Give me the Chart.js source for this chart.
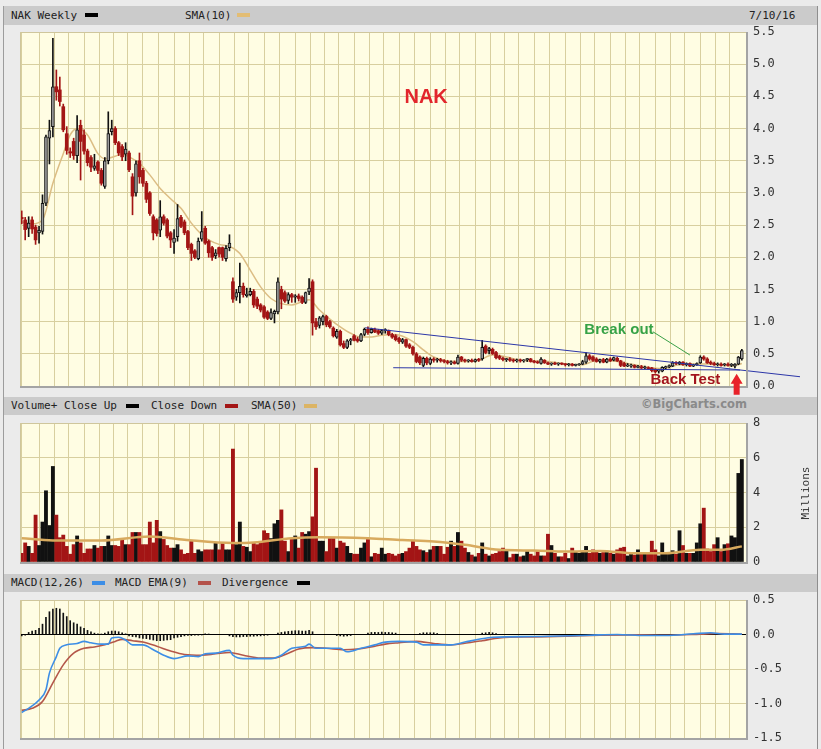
<!DOCTYPE html>
<html><head><meta charset="utf-8">
<script src="https://cdn.jsdelivr.net/npm/chart.js@4.4.1/dist/chart.umd.min.js"></script>
<style>
html,body{margin:0;padding:0;}
body{width:821px;height:749px;background:#ebebeb;position:relative;overflow:hidden;font-family:"DejaVu Sans Mono",monospace;}
.frame{position:absolute;left:3px;top:6px;width:815px;height:743px;border-left:1px solid #9c9c9c;border-right:1px solid #8e8e8e;box-sizing:border-box;}
.band{position:absolute;left:4px;width:813px;background:#cbcbcb;}
.lbl{position:absolute;font-size:11px;color:#222;white-space:nowrap;}
.sw{position:absolute;width:13px;height:4px;}
canvas{position:absolute;left:0;}
.bc{position:absolute;left:641px;top:397px;line-height:18px;font:bold 11.5px "DejaVu Sans",sans-serif;color:#8a8a8a;}
.mil{position:absolute;left:778px;top:486px;width:56px;text-align:center;font-size:11px;color:#333;transform:rotate(-90deg);line-height:14px;}
</style></head>
<body>
<div class="frame"></div>
<div class="band" style="top:6px;height:19px"></div>
<div class="band" style="top:397px;height:18px"></div>
<div class="band" style="top:574px;height:18px"></div>
<canvas id="c1" width="821" height="372" style="top:25px"></canvas>
<canvas id="c2" width="821" height="155" style="top:415px"></canvas>
<canvas id="c3" width="821" height="157" style="top:592px"></canvas>

<div class="lbl" style="left:11px;top:6px;line-height:19px">NAK Weekly</div>
<div class="sw" style="left:85px;top:13px;background:#000"></div>
<div class="lbl" style="left:185px;top:6px;line-height:19px">SMA(10)</div>
<div class="sw" style="left:237px;top:13px;background:#e3bd74"></div>
<div class="lbl" style="left:749px;top:6px;line-height:19px">7/10/16</div>

<div class="lbl" style="left:11px;top:397px;line-height:18px">Volume+ Close Up</div>
<div class="sw" style="left:126px;top:404px;background:#000"></div>
<div class="lbl" style="left:151px;top:397px;line-height:18px">Close Down</div>
<div class="sw" style="left:225px;top:404px;background:#a31515"></div>
<div class="lbl" style="left:251px;top:397px;line-height:18px">SMA(50)</div>
<div class="sw" style="left:304px;top:404px;background:#dcb464"></div>
<div class="bc">©BigCharts.com</div>
<div class="mil">Millions</div>

<div class="lbl" style="left:11px;top:574px;line-height:18px">MACD(12,26)</div>
<div class="sw" style="left:92px;top:581px;background:#3d8ee6"></div>
<div class="lbl" style="left:115px;top:574px;line-height:18px">MACD EMA(9)</div>
<div class="sw" style="left:198px;top:581px;background:#b4524a"></div>
<div class="lbl" style="left:222px;top:574px;line-height:18px">Divergence</div>
<div class="sw" style="left:297px;top:581px;background:#000"></div>

<script>
// ---------------- DATA ----------------
const firstWeekEnding = [2012, 7, 13];   // weekly bars, week-ending dates
const openP = [
2.62,2.58,2.45,2.58,2.47,2.42,2.40,2.84,3.85,4.03,
4.65,4.60,4.34,3.92,3.64,3.80,3.58,4.05,3.90,3.65,
3.55,3.38,3.48,3.35,3.10,3.50,3.95,4.00,3.78,3.72,
3.60,3.62,3.25,3.00,3.50,3.35,3.15,3.00,2.63,2.58,
2.42,2.63,2.58,2.38,2.23,2.32,2.62,2.55,2.40,2.20,
2.10,1.98,2.28,2.45,2.25,2.15,2.02,2.15,2.15,1.98,
2.15,1.62,1.38,1.45,1.55,1.40,1.42,1.47,1.35,1.26,
1.23,1.15,1.05,1.12,1.15,1.50,1.45,1.33,1.42,1.38,
1.40,1.38,1.30,1.46,1.62,1.00,0.94,1.00,1.08,1.00,
0.90,0.76,0.85,0.66,0.60,0.70,0.78,0.73,0.70,0.80,
0.88,0.83,0.88,0.86,0.82,0.86,0.86,0.80,0.78,0.74,
0.68,0.72,0.64,0.60,0.50,0.45,0.32,0.43,0.35,0.42,
0.40,0.41,0.39,0.38,0.36,0.37,0.35,0.45,0.40,0.39,
0.40,0.38,0.41,0.42,0.62,0.58,0.57,0.52,0.46,0.43,
0.41,0.42,0.40,0.39,0.40,0.39,0.41,0.42,0.38,0.37,
0.35,0.40,0.36,0.34,0.35,0.34,0.35,0.34,0.33,0.34,
0.32,0.33,0.34,0.37,0.47,0.45,0.42,0.38,0.41,0.37,
0.42,0.40,0.43,0.39,0.35,0.33,0.31,0.32,0.29,0.30,
0.29,0.28,0.28,0.26,0.24,0.23,0.28,0.30,0.31,0.36,
0.34,0.37,0.33,0.35,0.31,0.33,0.36,0.45,0.42,0.37,
0.35,0.33,0.34,0.33,0.34,0.32,0.31,0.34,0.42];
const highP = [
2.72,2.62,2.63,2.63,2.50,2.48,2.97,3.90,4.13,5.40,
4.91,4.80,4.38,4.03,3.70,3.85,4.20,4.13,3.98,3.68,
3.58,3.60,3.50,3.38,3.55,4.26,4.13,4.03,3.80,3.75,
3.78,3.65,3.30,3.50,3.62,3.38,3.18,3.02,2.66,2.60,
2.88,2.66,2.60,2.40,2.43,2.82,2.65,2.58,2.42,2.22,
2.12,2.30,2.71,2.48,2.27,2.17,2.12,2.16,2.16,2.18,
2.35,1.68,1.50,1.91,1.60,1.52,1.52,1.50,1.38,1.28,
1.25,1.17,1.20,1.18,1.68,1.55,1.48,1.45,1.44,1.42,
1.43,1.40,1.46,1.67,1.65,1.05,1.08,1.10,1.10,1.02,
0.92,0.88,0.87,0.70,0.72,0.74,0.80,0.76,0.82,0.90,
0.92,0.90,0.90,0.88,0.88,0.89,0.87,0.82,0.80,0.76,
0.74,0.73,0.66,0.62,0.52,0.47,0.45,0.45,0.44,0.44,
0.43,0.43,0.41,0.40,0.39,0.39,0.48,0.46,0.42,0.41,
0.42,0.42,0.43,0.71,0.64,0.60,0.59,0.54,0.48,0.45,
0.43,0.44,0.42,0.42,0.42,0.41,0.43,0.43,0.40,0.39,
0.44,0.41,0.37,0.36,0.37,0.36,0.36,0.35,0.35,0.35,
0.34,0.35,0.40,0.52,0.49,0.47,0.44,0.42,0.43,0.43,
0.44,0.45,0.45,0.40,0.37,0.35,0.34,0.33,0.32,0.32,
0.31,0.30,0.29,0.27,0.26,0.30,0.31,0.33,0.38,0.38,
0.38,0.38,0.36,0.36,0.34,0.36,0.47,0.47,0.44,0.39,
0.37,0.36,0.36,0.35,0.36,0.35,0.35,0.46,0.57];
const lowP = [
2.52,2.27,2.32,2.37,2.20,2.22,2.36,2.80,3.45,3.87,
4.44,4.35,3.95,3.60,3.55,3.52,3.47,3.20,3.60,3.42,
3.33,3.35,3.30,3.12,3.07,3.45,3.90,3.75,3.58,3.50,
3.50,3.33,2.66,2.95,3.15,3.10,2.85,2.65,2.27,2.33,
2.32,2.50,2.30,2.15,2.06,2.25,2.46,2.35,2.12,1.95,
1.98,1.96,2.25,2.20,2.00,1.95,1.98,2.00,1.95,1.94,
2.10,1.30,1.33,1.29,1.38,1.38,1.40,1.22,1.20,1.15,
1.05,1.03,1.03,0.98,1.12,1.20,1.30,1.28,1.30,1.30,
1.32,1.28,1.28,1.42,0.79,0.88,0.90,0.95,0.92,0.90,
0.76,0.74,0.62,0.58,0.58,0.64,0.70,0.68,0.69,0.78,
0.80,0.82,0.83,0.80,0.80,0.82,0.78,0.74,0.70,0.66,
0.66,0.60,0.58,0.48,0.36,0.33,0.30,0.33,0.33,0.37,
0.37,0.37,0.36,0.34,0.33,0.34,0.34,0.38,0.37,0.37,
0.37,0.37,0.38,0.40,0.50,0.50,0.49,0.42,0.41,0.39,
0.38,0.38,0.37,0.37,0.37,0.37,0.38,0.37,0.36,0.35,
0.34,0.35,0.33,0.32,0.33,0.32,0.33,0.31,0.31,0.31,
0.31,0.32,0.33,0.35,0.40,0.38,0.37,0.36,0.36,0.36,
0.38,0.39,0.38,0.30,0.30,0.30,0.29,0.28,0.28,0.27,
0.27,0.26,0.22,0.20,0.20,0.22,0.26,0.28,0.30,0.33,
0.33,0.32,0.31,0.30,0.30,0.32,0.35,0.40,0.35,0.33,
0.32,0.31,0.31,0.31,0.31,0.30,0.28,0.33,0.40];
const closeP = [
2.60,2.43,2.53,2.44,2.27,2.38,2.84,3.87,3.97,4.65,
4.57,4.42,3.98,3.66,3.62,3.58,3.98,3.80,3.65,3.47,
3.40,3.42,3.35,3.15,3.50,3.92,4.00,3.78,3.62,3.56,
3.68,3.36,2.95,3.45,3.25,3.15,2.90,2.68,2.38,2.37,
2.63,2.53,2.33,2.27,2.30,2.60,2.48,2.38,2.15,2.06,
2.00,2.25,2.40,2.22,2.07,2.00,2.07,2.05,2.00,2.14,
2.22,1.35,1.45,1.55,1.42,1.43,1.47,1.26,1.24,1.18,
1.07,1.05,1.14,1.16,1.62,1.35,1.32,1.42,1.38,1.40,
1.36,1.30,1.45,1.52,0.98,0.92,1.06,1.08,0.95,0.92,
0.78,0.85,0.64,0.60,0.70,0.72,0.71,0.70,0.80,0.88,
0.83,0.88,0.84,0.82,0.86,0.87,0.80,0.76,0.72,0.69,
0.72,0.62,0.60,0.50,0.38,0.36,0.43,0.36,0.42,0.40,
0.41,0.39,0.38,0.36,0.37,0.35,0.45,0.40,0.39,0.40,
0.38,0.41,0.40,0.60,0.52,0.55,0.50,0.44,0.43,0.41,
0.42,0.40,0.39,0.40,0.39,0.40,0.42,0.38,0.37,0.36,
0.42,0.36,0.34,0.35,0.34,0.35,0.34,0.33,0.34,0.32,
0.33,0.34,0.38,0.47,0.42,0.40,0.38,0.41,0.37,0.42,
0.39,0.44,0.39,0.32,0.31,0.31,0.32,0.29,0.30,0.28,
0.28,0.27,0.24,0.22,0.23,0.29,0.30,0.31,0.36,0.35,
0.37,0.33,0.35,0.31,0.33,0.35,0.45,0.42,0.36,0.35,
0.33,0.34,0.32,0.34,0.32,0.33,0.34,0.45,0.55];
const volumeM = [
0.5,1.1,0.9,0.5,2.7,0.95,2.3,4.1,2.1,5.5,
2.7,1.4,1.55,0.9,0.45,1.0,1.5,1.1,0.5,0.75,
0.75,0.95,0.8,0.9,0.9,1.5,0.95,0.95,0.9,1.25,
1.0,1.0,1.7,1.7,1.7,1.0,1.0,2.3,1.1,2.4,
1.75,1.3,0.95,0.8,0.8,1.0,0.7,0.45,0.5,1.25,
0.5,0.7,0.6,0.7,0.7,0.7,1.1,0.7,1.1,0.7,
0.7,6.5,1.0,2.3,0.9,0.85,0.6,1.1,1.0,1.1,
1.8,1.65,1.35,2.2,2.4,3.0,1.2,0.6,1.35,1.5,
0.8,1.7,1.6,1.75,2.6,5.4,1.2,1.2,0.6,1.35,
1.35,0.8,1.2,1.1,0.9,0.5,0.45,0.45,0.8,1.1,
1.3,0.3,0.5,0.45,0.8,0.45,0.5,0.45,0.35,0.45,
0.5,0.6,0.8,1.25,0.9,0.7,0.65,0.55,0.7,0.9,
0.9,0.9,0.45,0.85,1.2,0.9,1.7,1.2,0.8,0.55,
0.4,0.3,0.5,1.1,0.45,0.35,0.45,0.5,0.6,0.8,
0.7,0.25,0.45,0.45,0.3,0.35,0.6,0.45,0.35,0.6,
0.35,0.35,1.6,0.95,0.5,0.3,0.3,0.5,0.2,0.8,
0.6,0.5,0.6,0.9,0.5,0.7,0.65,0.5,0.55,0.6,
0.5,0.45,0.7,0.8,0.85,0.35,0.45,0.4,0.7,0.45,
0.45,0.45,1.2,0.7,0.35,1.1,0.45,0.55,0.65,0.45,
1.8,0.95,0.5,0.5,0.5,1.1,2.2,3.1,0.75,0.6,
1.0,1.4,0.6,1.0,1.05,1.5,1.4,5.1,5.9];
const sma10Weeks  = [0,3,6,9,12,14,16,19,22,24,27,29,31,34,37,40,43,46,49,52,54,57,60,63,66,69,72,75,78,80,83,86,89,92,95,98,101,104,108,113,116,119,123,128,132,136,140,144,152,157,162,166,171,175,180,185,190,195,200,205,208];
const sma10Values = [2.55,2.52,2.58,3.15,3.61,3.90,4.00,3.90,3.61,3.53,3.57,3.61,3.56,3.46,3.28,3.07,2.91,2.76,2.53,2.35,2.27,2.20,2.17,2.06,1.80,1.54,1.36,1.28,1.26,1.29,1.34,1.18,1.04,0.92,0.82,0.76,0.76,0.79,0.80,0.69,0.56,0.45,0.39,0.38,0.40,0.48,0.45,0.40,0.38,0.34,0.33,0.40,0.39,0.35,0.30,0.27,0.33,0.34,0.34,0.31,0.35];
const volSma50Weeks  = [0,9,23,37,47,61,67,78,86,100,110,119,128,138,148,157,167,177,186,196,202,208];
const volSma50Values = [1.37,1.24,1.24,1.47,1.28,1.09,1.12,1.37,1.43,1.37,1.26,1.18,0.99,0.70,0.66,0.60,0.64,0.50,0.50,0.70,0.70,0.90];
const macdWeeks  = [0,2,5,7,8,10,11,13,16,18,20,23,25,26,28,30,32,35,38,41,44,48,51,53,56,60,61,64,68,72,75,78,82,83,85,88,92,94,98,102,105,109,114,116,124,128,132,136,148,164,172,180,186,194,199,203,208];
const macdValues = [-1.13,-1.07,-0.95,-0.80,-0.56,-0.32,-0.20,-0.15,-0.13,-0.10,-0.12,-0.14,-0.14,-0.05,-0.04,-0.08,-0.15,-0.15,-0.22,-0.30,-0.35,-0.31,-0.32,-0.28,-0.27,-0.23,-0.30,-0.35,-0.35,-0.35,-0.30,-0.20,-0.17,-0.14,-0.20,-0.20,-0.20,-0.25,-0.20,-0.15,-0.11,-0.10,-0.11,-0.15,-0.15,-0.11,-0.07,-0.04,-0.03,-0.01,0.00,-0.015,-0.015,0.01,0.025,0.005,0.005];
const signalWeeks  = [0,3,6,9,12,15,18,21,24,27,29,32,35,39,43,47,52,56,60,64,69,73,77,80,84,88,93,97,102,105,109,114,119,124,129,133,138,148,157,167,177,186,196,201,208];
const signalValues = [-1.10,-1.07,-0.97,-0.70,-0.44,-0.27,-0.20,-0.18,-0.15,-0.10,-0.07,-0.09,-0.11,-0.17,-0.24,-0.29,-0.30,-0.28,-0.26,-0.30,-0.34,-0.34,-0.27,-0.21,-0.19,-0.20,-0.22,-0.21,-0.17,-0.14,-0.12,-0.10,-0.13,-0.15,-0.12,-0.09,-0.05,-0.035,-0.025,-0.01,-0.005,-0.01,0.005,0.015,0.005];
const divWeeks = [0,1,2,3,4,5,6,7,8,9,10,11,12,13,14,15,16,17,18,19,20,21,22,23,24,25,26,27,28,29,30,31,32,33,34,35,36,37,38,39,40,41,42,43,44,45,46,47,48,49,50,51,52,53,54,
  60,61,62,63,64,65,66,67,68,69,70,71, 74,75,76,77,78,79,80,81,82,83,84, 91,92,93,94,95, 100,101,102,103,104,105,106,107,108, 115,116,117,118,119,120, 133,134,135,136,137];
const divValues = [-0.02,-0.01,0.03,0.05,0.06,0.09,0.15,0.25,0.33,0.37,0.38,0.37,0.31,0.26,0.20,0.17,0.15,0.11,0.09,0.06,0.04,0.02,0.01,0.005,0.02,0.04,0.05,0.05,0.04,0.025,0.01,-0.02,-0.03,-0.035,-0.05,-0.055,-0.06,-0.07,-0.08,-0.09,-0.09,-0.085,-0.08,-0.075,-0.05,-0.04,-0.03,-0.02,-0.015,-0.015,-0.01,-0.01,-0.005,0.01,0.005,
  -0.02,-0.03,-0.035,-0.035,-0.03,-0.03,-0.025,-0.025,-0.02,-0.02,-0.015,-0.01, 0.02,0.03,0.04,0.045,0.05,0.055,0.055,0.05,0.05,0.06,0.04, -0.015,-0.02,-0.025,-0.02,-0.015, 0.02,0.03,0.03,0.03,0.035,0.03,0.03,0.025,0.02, 0.015,0.025,0.025,0.025,0.025,0.015, 0.02,0.025,0.03,0.025,0.015];
const priceTicks  = [0,0.5,1,1.5,2,2.5,3,3.5,4,4.5,5,5.5];
const volumeTicks = [0,2,4,6,8];
const macdTicks   = [-1.5,-1,-0.5,0,0.5];
// drawn trend lines and notes (in week / price units)
const resistanceWeeks = [99.2, 224.8], resistanceValues = [0.905, 0.144];
const supportWeeks    = [107.3, 207.5], supportValues    = [0.284, 0.248];
const leaderWeeks     = [182.3, 193.0], leaderValues     = [0.843, 0.481];
const noteTexts  = ['NAK', 'Break out', 'Back Test'];
const noteWeeks  = [116.8, 172.5, 191.7];
const noteValues = [4.49, 0.87, 0.093];
const arrowWeek = 206.5, arrowValue = 0.19;

// ---------------- STYLE ----------------
Chart.defaults.font.family = '"DejaVu Sans Mono", monospace';
const GRID = '#d8cf9f', CREAM = '#fffde3';
const UPC = '#111111', DNC = '#a31515';
const noteFonts  = ['bold 20px "Liberation Sans", Arial, sans-serif', 'bold 15px "Liberation Sans", Arial, sans-serif', 'bold 15px "Liberation Sans", Arial, sans-serif'];
const noteColors = ['#e2262c', '#36a246', '#a3141d'];

const N = closeP.length;
const xMin = -0.5, xMax = 209.2;
const closeUp = closeP.map((c, i) => c >= (i ? closeP[i - 1] : openP[i]));
const weekDates = closeP.map((_, i) => new Date(Date.UTC(firstWeekEnding[0], firstWeekEnding[1] - 1, firstWeekEnding[2] + 7 * i)));
const monthLines = [];
for (let i = 1; i < N - 2; i++) if (weekDates[i].getUTCMonth() !== weekDates[i - 1].getUTCMonth()) monthLines.push(i - 0.5);
const pts = (xs, ys) => xs.map((x, i) => ({x, y: ys[i]}));

function xAxis() {
  return { type: 'linear', min: xMin, max: xMax, offset: false,
    afterBuildTicks: s => { s.ticks = monthLines.map(v => ({value: v})); },
    afterFit: s => { s.height = 0; s.paddingLeft = 0; s.paddingRight = 0; },
    ticks: { display: false }, grid: { color: GRID, drawTicks: false }, border: { display: false } };
}
function yAxis(list, fmt, gridColor) {
  return { position: 'right', min: list[0], max: list[list.length - 1],
    afterBuildTicks: s => { s.ticks = list.map(v => ({value: v})); },
    afterFit: s => { s.width = 60; s.paddingTop = 0; s.paddingBottom = 0; },
    ticks: { padding: 7, color: '#333', font: { size: 12 }, callback: v => fmt(v) },
    grid: { color: gridColor || GRID, drawTicks: false }, border: { display: false } };
}
const panel = {
  id: 'panel',
  beforeDraw(chart) {
    const {ctx, chartArea: a} = chart;
    ctx.save(); ctx.fillStyle = CREAM; ctx.fillRect(a.left, a.top, a.right - a.left, a.bottom - a.top); ctx.restore();
  },
  afterDatasetsDraw(chart) {
    const {ctx, chartArea: a} = chart;
    ctx.save();
    ctx.strokeStyle = '#cfc69c'; ctx.lineWidth = 1;
    ctx.beginPath(); ctx.moveTo(a.left + 0.5, a.bottom); ctx.lineTo(a.left + 0.5, a.top + 0.5); ctx.lineTo(a.right, a.top + 0.5); ctx.stroke();
    ctx.strokeStyle = '#a4a4a4'; ctx.lineWidth = 2;
    ctx.beginPath(); ctx.moveTo(a.left, a.bottom + 1); ctx.lineTo(a.right + 1, a.bottom + 1); ctx.lineTo(a.right + 1, a.top); ctx.stroke();
    ctx.restore();
  }
};
const notesPlugin = {
  id: 'notes',
  afterDraw(chart) {
    const {ctx, scales: {x, y}} = chart;
    ctx.save();
    ctx.textAlign = 'center'; ctx.textBaseline = 'middle';
    noteTexts.forEach((t, i) => { ctx.font = noteFonts[i]; ctx.fillStyle = noteColors[i]; ctx.fillText(t, x.getPixelForValue(noteWeeks[i]), y.getPixelForValue(noteValues[i])); });
    const tx = x.getPixelForValue(arrowWeek), ty = y.getPixelForValue(arrowValue);
    ctx.fillStyle = '#e8222a';
    ctx.beginPath(); ctx.moveTo(tx, ty); ctx.lineTo(tx + 6, ty + 10); ctx.lineTo(tx + 3, ty + 10); ctx.lineTo(tx + 3, ty + 21);
    ctx.lineTo(tx - 3, ty + 21); ctx.lineTo(tx - 3, ty + 10); ctx.lineTo(tx - 6, ty + 10); ctx.closePath(); ctx.fill();
    ctx.restore();
  }
};
function baseOptions(padding, y) {
  return { responsive: false, animation: false, devicePixelRatio: 1, events: [],
    layout: { padding }, plugins: { legend: { display: false }, tooltip: { enabled: false } },
    datasets: { bar: { grouped: false } },
    scales: { x: xAxis(), y } };
}
const line = (data, color, width, order, extra) => Object.assign({ type: 'line', data, borderColor: color, borderWidth: width, pointRadius: 0, order, cubicInterpolationMode: 'monotone' }, extra || {});

// ---------------- PRICE ----------------
new Chart(document.getElementById('c1'), {
  type: 'bar',
  data: { datasets: [
    line(pts(sma10Weeks, sma10Values), '#dcbd84', 1.5, 5),
    { type: 'bar', data: highP.map((h, i) => ({x: i, y: [lowP[i], h]})), barThickness: 1, order: 3,
      backgroundColor: closeUp.map(u => u ? UPC : DNC) },
    { type: 'bar', data: openP.map((o, i) => ({x: i, y: [o, closeP[i]]})), barThickness: 3, order: 2, minBarLength: 1,
      backgroundColor: closeUp.map(u => u ? '#9c9c9c' : DNC), borderColor: closeUp.map(u => u ? UPC : DNC),
      borderWidth: closeUp.map(u => u ? 1 : 0), borderSkipped: false },
    line(pts(resistanceWeeks, resistanceValues), '#2c36a8', 1, 0, { clip: false, cubicInterpolationMode: 'default', tension: 0 }),
    line(pts(supportWeeks, supportValues), '#2c36a8', 1, 0, { clip: false, cubicInterpolationMode: 'default', tension: 0 }),
    line(pts(leaderWeeks, leaderValues), '#3aa048', 1, 0, { clip: false, cubicInterpolationMode: 'default', tension: 0 })
  ] },
  options: baseOptions({ left: 20, right: 15, top: 7, bottom: 11 }, yAxis(priceTicks, v => v.toFixed(1))),
  plugins: [panel, notesPlugin]
});

// ---------------- VOLUME ----------------
new Chart(document.getElementById('c2'), {
  type: 'bar',
  data: { datasets: [
    { type: 'bar', data: volumeM.map((v, i) => ({x: i, y: v})), barThickness: 3.2, order: 2,
      backgroundColor: closeUp.map(u => u ? UPC : DNC) },
    line(pts(volSma50Weeks, volSma50Values), '#d8aa5e', 2.5, 0)
  ] },
  options: baseOptions({ left: 20, right: 15, top: 8, bottom: 8 }, yAxis(volumeTicks, v => String(v))),
  plugins: [panel]
});

// ---------------- MACD ----------------
new Chart(document.getElementById('c3'), {
  type: 'bar',
  data: { datasets: [
    { type: 'bar', data: pts(divWeeks, divValues), barThickness: 1, order: 3, backgroundColor: '#111' },
    line(pts(signalWeeks, signalValues), '#b4574a', 1.6, 1),
    line(pts(macdWeeks, macdValues), '#3d8ee6', 1.6, 0)
  ] },
  options: baseOptions({ left: 20, right: 15, top: 8, bottom: 11 },
    yAxis(macdTicks, v => v.toFixed(1), c => (c.tick && c.tick.value === 0) ? '#000' : GRID)),
  plugins: [panel]
});
</script>
</body></html>
